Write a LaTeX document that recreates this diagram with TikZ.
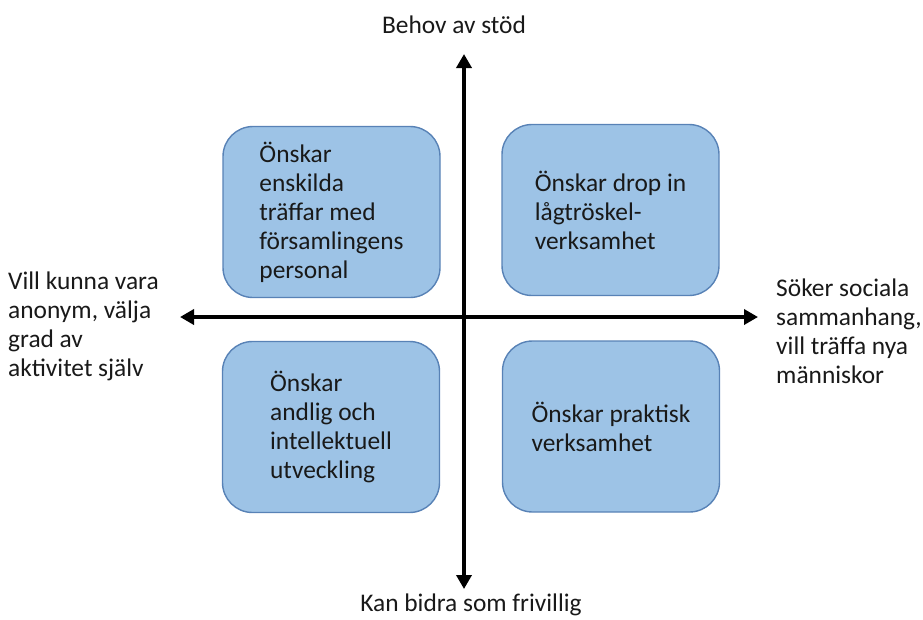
\documentclass[tikz,border=0pt]{standalone}
\usepackage{fontspec}
\setmainfont{Carlito}
\usetikzlibrary{arrows.meta}
\definecolor{boxfill}{RGB}{157,195,230}
\definecolor{boxdraw}{RGB}{88,130,182}
\begin{document}
\begin{tikzpicture}[x=1pt,y=-1pt,
  txt/.style={font=\fontsize{25.4}{29}\selectfont, inner sep=0pt, text=black!90},
  quad/.style={txt, draw=boxdraw, line width=1.4pt, fill=boxfill,
    rounded corners=30pt, minimum width=217pt, minimum height=171pt, align=left},
  axis/.style={line width=3.6pt, {Triangle[length=14pt,width=15pt]}-{Triangle[length=14pt,width=15pt]}}]
\useasboundingbox (0,0) rectangle (923,619);
% quadrant boxes
\node[quad] (tl) at (331.5,212) {Önskar\\enskilda\\träffar med\\församlingens\\personal};
\node[quad] (tr) at (610.5,210) {Önskar drop in\\lågtröskel-\\verksamhet};
\node[quad] (bl) at (331,427) {Önskar\\andlig och\\intellektuell\\utveckling};
\node[quad] (br) at (611,426.5) {Önskar praktisk\\verksamhet};
% axes
\coordinate (top) at (464,54);
\coordinate (bottom) at (464,589);
\coordinate (left) at (180,317);
\coordinate (right) at (758,317);
\draw[axis] (bottom) -- (top);
\draw[axis] (left) -- (right);
% axis labels
\node[txt, anchor=base] (ltop) at (454,33) {Behov av stöd};
\node[txt, anchor=base] (lbot) at (471,611) {Kan bidra som frivillig};
\node[txt, anchor=west, align=left] (lleft) at (8,326) {Vill kunna vara\\anonym, välja\\grad av\\aktivitet själv};
\node[txt, anchor=west, align=left] (lright) at (776,331) {Söker sociala\\sammanhang,\\vill träffa nya\\människor};
\end{tikzpicture}
\end{document}
